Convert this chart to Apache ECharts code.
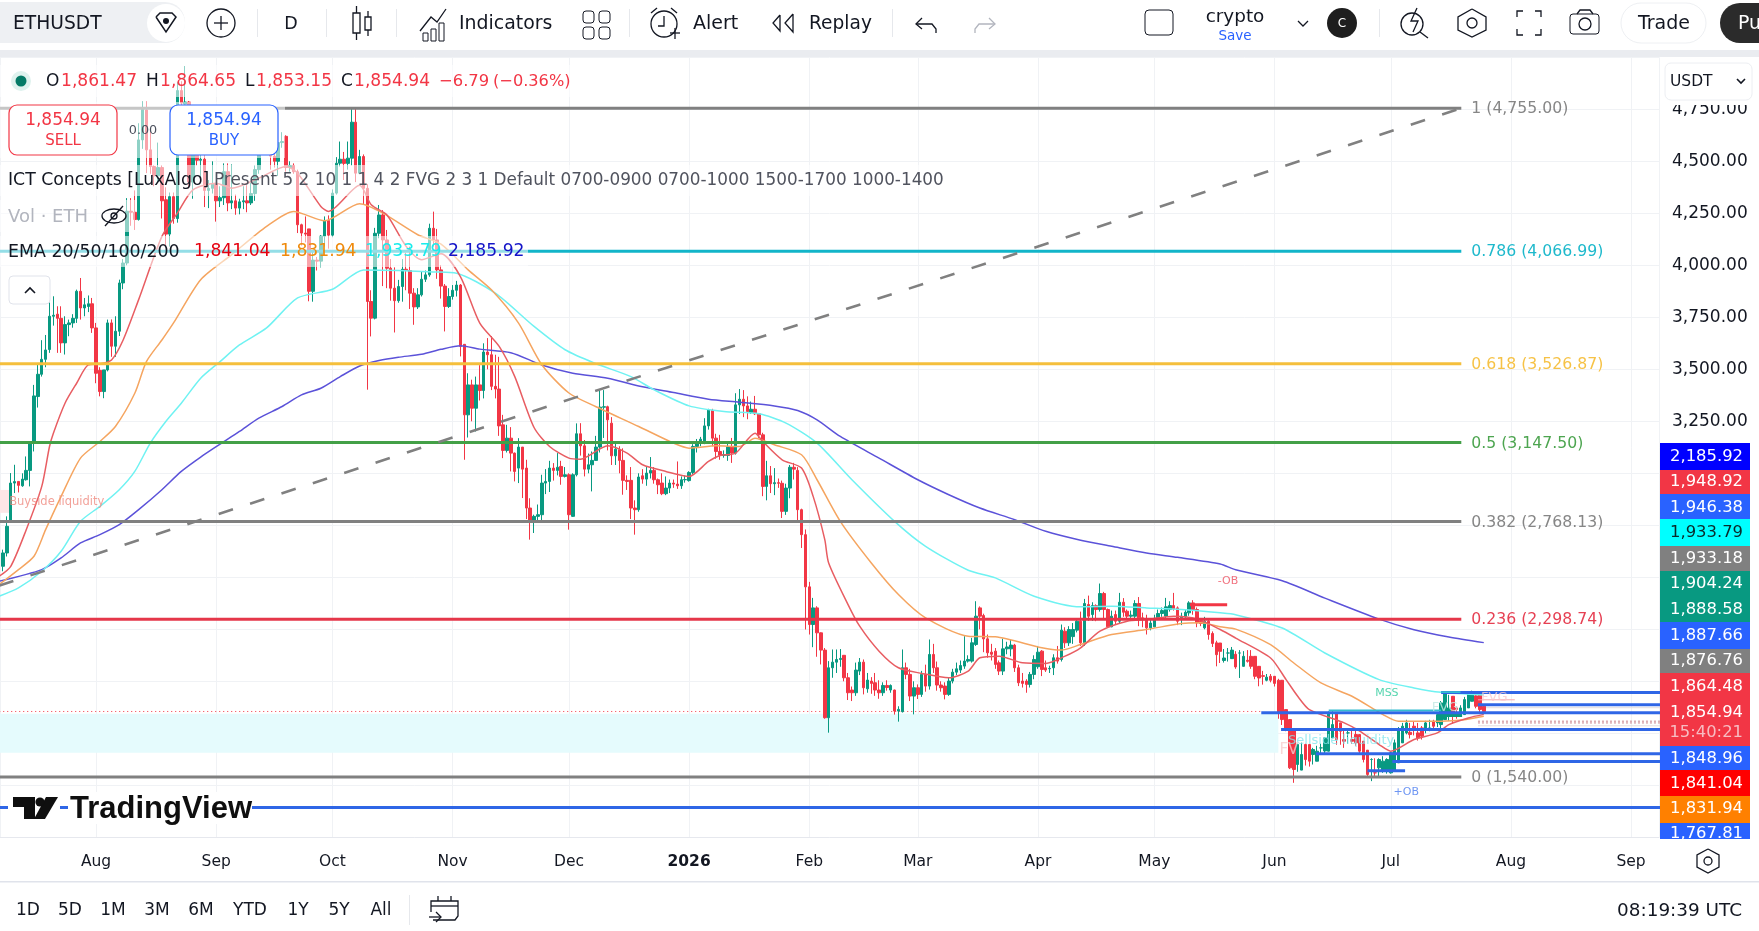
<!DOCTYPE html>
<html>
<head>
<meta charset="utf-8">
<title>ETHUSDT daily</title>
<style>html,body{margin:0;padding:0;background:#fff}#chart{width:1759px;height:931px}</style>
<script src="https://cdn.jsdelivr.net/npm/echarts@6/dist/echarts.min.js"></script>
</head>
<body>
<div id="chart"></div>
<script>
// Daily ETHUSDT candles, first bar 2025-07-08
const firstBar = Date.UTC(2025, 6, 8);
const opens = [2553,2617,2769,2953,2961,2940,2969,3014,3145,3369,3476,3548,3595,3755,3765,3745,3627,3715,3723,3745,3875,3795,3802,3815,3699,3495,3393,3497,3723,3611,3683,3915,4011,4260,4255,4220,4603,4747,4555,4475,4430,4470,4315,4150,4330,4225,4840,4775,4785,4400,4600,4505,4510,4360,4370,4390,4310,4325,4450,4300,4310,4275,4305,4310,4300,4345,4460,4715,4670,4605,4525,4500,4590,4620,4470,4480,4450,4195,4155,4175,3875,4025,4020,4140,4215,4145,4347,4491,4510,4490,4515,4688,4443,4523,4370,3826,3746,4154,4242,4122,3986,3890,3830,3898,3981,3975,3866,3800,3858,3933,3954,4178,4122,3978,3900,3802,3850,3880,3905,3620,3281,3425,3313,3425,3398,3583,3570,3418,3405,3233,3110,3169,3097,3025,3126,3025,2833,2769,2793,2801,2953,2961,3025,3014,3033,2985,2993,2793,2993,3190,3132,3020,3041,3062,3126,3318,3320,3241,3084,3113,3062,2966,2966,2833,2825,2988,2972,3001,3014,2969,2953,2902,2929,2953,2948,2940,2969,2965,3004,3129,3145,3145,3228,3302,3169,3105,3086,3086,3126,3097,3329,3356,3324,3292,3308,3286,3185,2937,2988,2950,2955,2952,2817,2929,3029,3014,2825,2705,2454,2273,2353,2233,2150,1825,2065,2092,2105,2125,2017,1958,1945,2049,2092,1964,2001,1993,1958,1945,1980,1958,1958,1857,1854,2065,2033,1929,1969,1937,2033,1977,2129,2065,1982,1977,1937,2001,2044,2054,2073,2097,2097,2177,2353,2316,2204,2140,2145,2089,2049,2156,2156,2174,2065,2001,2001,1985,2033,2070,2145,2065,2060,2065,2113,2105,2241,2185,2215,2246,2289,2185,2369,2321,2364,2345,2422,2345,2262,2321,2289,2380,2337,2313,2313,2374,2305,2297,2257,2262,2305,2326,2313,2345,2364,2353,2305,2310,2329,2377,2345,2289,2257,2289,2230,2185,2184,2100,2136,2109,2130,2136,2072,2101,2120,2120,2072,2027,2005,2024,2024,2005,2005,1864,1816,1768,1600,1573,1696,1696,1648,1616,1680,1665,1664,1728,1848,1800,1720,1752,1720,1744,1744,1712,1669,1624,1560,1584,1568,1568,1560,1568,1608,1704,1752,1755,1784,1752,1776,1776,1768,1808,1800,1792,1816,1832,1928,1872,1832,1840,1872,1904,1930,1936,1880,1861.47];
const closes = [2617,2745,2953,2960,2942,2972,3014,3145,3372,3476,3548,3593,3755,3760,3745,3627,3715,3723,3745,3875,3795,3810,3815,3699,3481,3393,3497,3723,3611,3683,3915,4011,4260,4255,4220,4603,4750,4555,4475,4430,4470,4310,4150,4330,4225,4840,4780,4785,4400,4600,4505,4510,4360,4370,4390,4310,4325,4450,4300,4310,4275,4305,4310,4300,4345,4460,4715,4670,4605,4525,4500,4590,4595,4470,4480,4450,4195,4155,4150,3875,4025,4020,4140,4215,4145,4347,4491,4510,4490,4515,4688,4443,4523,4370,3826,3746,4154,4242,4122,3986,3890,3830,3898,3981,3975,3866,3800,3858,3933,3954,4178,4122,3978,3900,3802,3850,3880,3905,3610,3281,3425,3313,3425,3398,3583,3570,3418,3405,3228,3110,3169,3097,3009,3126,3020,2833,2769,2793,2801,2953,2961,3025,3014,3029,2985,2993,2801,2993,3190,3132,3020,3041,3062,3126,3318,3320,3257,3084,3116,3062,2966,2961,2833,2825,2982,2972,3001,3014,2969,2945,2902,2929,2953,2948,2940,2969,2970,3004,3129,3145,3164,3228,3305,3169,3105,3086,3090,3126,3097,3329,3356,3324,3297,3308,3286,3185,2937,2988,2950,2955,2952,2817,2929,3029,3020,2825,2705,2454,2273,2353,2233,2150,1825,2065,2092,2105,2110,2017,1945,1945,2054,2092,1969,2006,1990,1958,1945,1980,1970,1980,1857,1865,2065,2033,1929,1969,1937,2033,1977,2129,2065,1982,1969,1937,2001,2044,2060,2076,2097,2105,2185,2313,2313,2204,2137,2130,2081,2049,2156,2165,2174,2065,1993,1990,1985,2033,2105,2140,2057,2054,2062,2113,2097,2246,2185,2249,2249,2289,2185,2374,2313,2364,2345,2422,2345,2262,2313,2289,2380,2332,2313,2318,2374,2305,2297,2257,2280,2297,2326,2340,2358,2364,2348,2289,2313,2332,2377,2345,2281,2278,2289,2225,2182,2128,2144,2112,2136,2150,2069,2136,2120,2096,2072,2024,2016,2024,2020,2005,1990,1852,1816,1768,1584,1576,1696,1648,1624,1616,1672,1664,1680,1728,1848,1792,1720,1760,1712,1752,1712,1704,1664,1624,1552,1624,1560,1624,1616,1624,1656,1704,1768,1784,1800,1744,1776,1728,1736,1800,1776,1784,1840,1896,1944,1872,1832,1864,1872,1912,1944,1945,1880,1864,1854.94];
const lows = [2529,2600,2761,2905,2908,2935,2965,2937,3105,3316,3465,3510,3579,3710,3579,3579,3571,3659,3700,3723,3739,3755,3775,3675,3433,3370,3361,3490,3560,3560,3660,3885,4000,4190,4170,4215,4560,4443,4440,4380,4400,4225,4090,4090,4200,4205,4725,4690,4370,4320,4480,4420,4280,4275,4345,4210,4280,4290,4260,4270,4243,4245,4270,4255,4290,4310,4440,4640,4570,4460,4470,4430,4565,4450,4450,4440,4155,4095,4110,3827,3825,3975,3990,4090,4080,4135,4340,4475,4410,4460,4480,4400,4440,4290,3402,3658,3740,4130,3900,3890,3830,3677,3820,3825,3880,3790,3714,3790,3850,3920,3945,4090,3935,3840,3682,3795,3835,3850,3562,3065,3172,3250,3201,3350,3360,3500,3400,3360,3180,3073,3100,3009,2961,2953,2881,2780,2681,2713,2770,2770,2900,2910,2965,2990,2945,2980,2729,2790,2985,3085,2985,3000,2913,3060,3100,3170,3110,3040,3040,3000,2897,2920,2780,2705,2815,2950,2940,2975,2950,2900,2895,2895,2905,2930,2925,2925,2955,2960,2995,3100,3130,3140,3210,3130,3070,3065,3075,3060,3050,3090,3285,3270,3260,3285,3280,3170,2890,2870,2905,2895,2930,2785,2800,2880,2970,2765,2641,2249,2225,2164,2118,2081,1820,1753,2017,2040,2070,2000,1910,1905,1930,2030,1937,1945,1940,1930,1916,1930,1955,1945,1840,1806,1850,2010,1905,1841,1915,1925,1950,1960,2040,1955,1950,1913,1930,1990,2030,2040,2060,2090,2090,2170,2250,2140,2113,2100,2060,2030,2030,2130,2120,2045,1977,1970,1945,1970,2010,2060,2025,2045,2040,2030,2085,2095,2160,2170,2180,2235,2170,2170,2290,2290,2289,2335,2300,2260,2260,2275,2280,2310,2300,2305,2300,2265,2260,2225,2245,2260,2295,2310,2300,2335,2340,2270,2270,2295,2315,2320,2260,2265,2250,2200,2165,2072,2088,2090,2095,2115,2060,2016,2085,2090,2060,2010,1976,1984,2000,1995,1975,1820,1790,1760,1578,1512,1565,1620,1595,1590,1600,1650,1655,1650,1720,1780,1695,1695,1680,1700,1700,1690,1650,1610,1540,1520,1540,1540,1560,1556,1556,1600,1700,1745,1745,1725,1740,1715,1720,1750,1760,1770,1780,1765,1825,1810,1795,1820,1830,1860,1895,1905,1870,1845,1853.15];
const highs = [2633,2793,3001,3041,2961,3000,3081,3145,3425,3529,3640,3665,3835,3851,3803,3803,3755,3739,3765,3883,3939,3843,3855,3843,3723,3510,3497,3739,3740,3755,3931,4030,4323,4323,4360,4683,4787,4787,4640,4480,4590,4480,4375,4350,4350,4880,4885,4958,4790,4640,4665,4610,4560,4410,4500,4390,4380,4490,4490,4485,4340,4320,4380,4385,4400,4480,4765,4770,4700,4655,4545,4610,4640,4625,4500,4490,4460,4200,4235,4175,4065,4040,4145,4235,4240,4365,4520,4595,4545,4595,4755,4755,4555,4533,4390,3880,4180,4290,4265,4170,4030,3990,3930,4030,4060,4090,3890,3890,3970,3975,4200,4258,4175,4000,3910,3890,3905,3925,3910,3620,3481,3450,3465,3520,3625,3650,3660,3570,3560,3281,3233,3222,3100,3169,3126,3065,2880,2801,2850,2993,3020,3060,3049,3097,3060,3030,3000,3000,3240,3241,3160,3095,3105,3180,3405,3400,3325,3270,3150,3130,3120,2990,3030,2870,3000,3020,3030,3078,3030,2975,3000,2985,2970,2970,3057,2985,2990,3010,3140,3165,3175,3265,3310,3310,3190,3185,3110,3150,3170,3385,3405,3400,3370,3345,3372,3290,3195,3060,3035,3025,2975,2965,2950,3040,3050,3030,2830,2730,2478,2401,2361,2235,2160,2097,2153,2153,2155,2125,2040,1975,2090,2112,2105,2040,2020,2040,2005,1995,2005,1985,1960,1880,2153,2090,2060,2000,1985,2050,2080,2201,2180,2095,2000,1995,2020,2060,2090,2100,2217,2125,2209,2385,2360,2325,2225,2180,2160,2100,2205,2190,2200,2180,2080,2040,2010,2045,2125,2170,2150,2100,2075,2130,2170,2273,2260,2265,2280,2300,2335,2396,2412,2380,2370,2470,2430,2350,2340,2340,2425,2400,2345,2340,2390,2405,2330,2320,2300,2320,2345,2355,2401,2385,2425,2360,2330,2345,2385,2390,2355,2300,2310,2300,2240,2195,2160,2155,2160,2165,2145,2150,2145,2150,2150,2085,2040,2050,2035,2035,2020,2012,1870,1830,1780,1620,1700,1705,1700,1660,1680,1690,1700,1730,1855,1856,1825,1775,1765,1770,1768,1776,1720,1680,1635,1630,1630,1630,1640,1630,1660,1720,1780,1800,1815,1800,1805,1800,1785,1810,1815,1815,1850,1905,1950,1935,1880,1880,1885,1925,1948,1955,1945,1885,1864.65];

// Moving averages, one [bar number, price] reading per marked point of the curve
const ema20 = [[-1,2505],[2,2553],[6,2729],[10,2937],[12,3129],[13,3193],[16,3337],[19,3433],[22,3521],[25,3526],[28,3545],[31,3641],[35,3835],[41,4139],[45,4251],[49,4363],[55,4395],[59,4371],[66,4419],[73,4475],[76,4443],[82,4283],[84,4259],[92,4385],[95,4291],[99,4243],[104,4091],[108,4027],[113,4055],[118,3946],[123,3722],[128,3610],[132,3466],[137,3220],[141,3129],[146,3073],[149,3068],[156,3132],[161,3097],[165,3041],[171,3009],[177,2985],[182,3057],[185,3086],[189,3097],[194,3193],[196,3153],[201,3065],[206,3025],[209,2889],[212,2681],[213,2569],[218,2369],[221,2265],[226,2145],[231,2065],[237,2038],[244,2017],[249,2049],[252,2113],[257,2121],[263,2089],[269,2086],[274,2121],[278,2161],[283,2241],[290,2289],[295,2297],[302,2313],[308,2300],[314,2249],[318,2208],[327,2112],[331,2008],[334,1928],[337,1864],[346,1800],[350,1760],[355,1696],[358,1664],[364,1720],[370,1752],[373,1792],[378,1824],[382,1841.04]];
const ema50 = [[-1,2465],[4,2537],[8,2601],[11,2729],[15,2889],[20,3073],[25,3153],[29,3225],[34,3385],[37,3537],[41,3641],[44,3723],[51,3931],[59,4051],[68,4187],[75,4259],[83,4214],[92,4296],[98,4251],[107,4147],[113,4102],[120,3978],[126,3882],[133,3722],[139,3522],[146,3386],[153,3320],[164,3225],[173,3145],[177,3121],[184,3132],[190,3129],[194,3169],[199,3137],[206,3089],[210,2969],[216,2769],[224,2569],[231,2417],[238,2305],[249,2217],[256,2214],[268,2161],[273,2150],[278,2177],[286,2225],[295,2249],[304,2278],[309,2281],[314,2262],[318,2251],[327,2176],[333,2088],[340,1992],[348,1928],[356,1840],[360,1808],[371,1808],[377,1815],[382,1831.94]];
const ema100 = [[-1,2409],[4,2449],[10,2529],[15,2625],[20,2769],[25,2841],[30,2921],[34,3009],[38,3145],[42,3249],[46,3337],[51,3457],[56,3537],[61,3617],[68,3699],[76,3843],[85,3885],[93,3978],[102,3975],[111,3968],[117,3962],[127,3866],[137,3706],[145,3594],[153,3527],[162,3465],[168,3401],[177,3324],[186,3297],[195,3286],[202,3241],[210,3145],[219,2969],[230,2769],[238,2649],[249,2534],[256,2497],[266,2409],[278,2358],[286,2361],[295,2353],[304,2345],[314,2329],[318,2320],[330,2256],[341,2136],[355,2008],[364,1968],[371,1947],[382,1933.79]];
const ema200 = [[-1,2481],[10,2537],[15,2593],[20,2665],[25,2705],[30,2753],[35,2825],[41,2921],[46,3009],[51,3078],[56,3140],[61,3201],[66,3265],[72,3321],[77,3377],[82,3409],[87,3465],[92,3516],[97,3542],[102,3558],[108,3572],[113,3596],[118,3613],[123,3597],[131,3580],[139,3521],[147,3481],[156,3457],[164,3420],[173,3388],[182,3356],[190,3342],[199,3324],[205,3302],[210,3257],[216,3177],[226,3073],[236,2969],[244,2897],[252,2833],[261,2777],[269,2721],[278,2678],[286,2649],[295,2617],[303,2596],[314,2564],[318,2536],[330,2483],[341,2400],[355,2299],[364,2248],[373,2213],[382,2185.92]];

// Fibonacci retracement levels and the swing line they hang from
const fibRatios = ['1','0.786','0.618','0.5','0.382','0.236','0'];
const fibPrices = [4755,4066.99,3526.87,3147.5,2768.13,2298.74,1540];
const fibColors = ['#808080','#12b5c9','#f5bf3c','#43a047','#808080','#e5364a','#808080'];
const fibEndBar = 376.2;
const swingBars = [-1,376.2];
const swingPrices = [2460,4755];

// ICT structure levels: [first bar, last bar, price]
const blueLevels = [[371,428,1946.38],[380.5,428,1887.66],[324.6,428,1848.96],[329.7,428,1767.81],[338.7,428,1652],[358.4,428,1614],[352,361.7,1570],[-2,428,1393]];
const redBlock = [306.2,315.8,2368];
const cyanLevels = [[342,371,1860],[371,376,1948]];
const greenBlock = [370,376.4,1838];
const fvgEdge = [380.5,390,1911];
const pinkDotted = [[380.5,428,1808],[380.5,428,1800]];
const paleLevels = [[380.5,428,1873],[380.5,428,1786]];
const demandZone = [-2,329,1657,1844];
const buysideBox = [-2,2,2810,2920];
const annotations = [
  ['Buyside liquidity',1.6,2862,'#ef8a80',11.5,'right'],
  ['Sellside liquidity',331.5,1715,'#86e6ee',13,'right'],
  ['FV',329.3,1671,'#f6cdcd',15,'right'],
  ['MSS',357,1945,'#2ccb9b',11,'inside'],
  ['-OB',316,2483,'#ee5060',11,'inside'],
  ['+OB',362,1465,'#4a7cf0',11,'inside'],
  ['FVG',384.7,1921,'#f9c9ce',13,'inside'],
  ['FVG',372,1873,'#c2e8e4',13,'inside']
];

// Price scale tags down the right edge
const tagLabels = ['2,185.92','1,948.92','1,946.38','1,933.79','1,933.18','1,904.24','1,888.58','1,887.66','1,876.76','1,864.48','1,854.94','15:40:21','1,848.96','1,841.04','1,831.94','1,767.81'];
const tagTextColors = ['#fff','#fff','#fff','#0a2a2a','#fff','#fff','#fff','#fff','#fff','#fff','#fff','#f7bcc2','#fff','#fff','#fff','#fff'];
const tagCenters = [456,481,507,532,558,583,609,635,660,686,712,732,758,783,808,833];
const tagBlocks = [[443,470,'#0000ff'],[470,494,'#f23645'],[494,519,'#2962ff'],[519,546,'#00ffff'],[546,571,'#808080'],[571,622,'#089981'],[622,649,'#2962ff'],[649,673,'#808080'],[673,746,'#f23645'],[746,770,'#2962ff'],[770,796,'#ff0000'],[796,823,'#ff8000'],[823,839,'#2962ff']];

const FONT = '"DejaVu Sans"';
const barTime = i => firstBar + i * 86400000;
const candles = opens.map((o, i) => [barTime(i), o, closes[i], lows[i], highs[i]]);
const curve = pts => pts.map(p => [barTime(p[0]), p[1]]);

function flat(name, from, to, price, color, width, extra) {
  return Object.assign({
    name, type: 'line', symbol: 'none', silent: true, animation: false,
    z: 6, lineStyle: { color, width, cap: 'butt' },
    data: [[barTime(from), price], [barTime(to), price]]
  }, extra || {});
}
const emaLine = (name, pts, color) => ({
  name, type: 'line', symbol: 'none', silent: true, animation: false, smooth: 0.25, z: 5,
  lineStyle: { color, width: 1.5 }, data: curve(pts)
});

const series = [];
series.push({
  name: 'zones', type: 'line', symbol: 'none', silent: true, animation: false, z: 1, data: [],
  markArea: { silent: true, animation: false, data: [
    [{ xAxis: barTime(demandZone[0]), yAxis: demandZone[2], itemStyle: { color: '#e5fbfd' } }, { xAxis: barTime(demandZone[1]), yAxis: demandZone[3] }],
    [{ xAxis: barTime(buysideBox[0]), yAxis: buysideBox[2], itemStyle: { color: '#fde6e7' } }, { xAxis: barTime(buysideBox[1]), yAxis: buysideBox[3] }]
  ] }
});
series.push({
  name: 'ETHUSDT', type: 'candlestick', data: candles, barWidth: 3, z: 3, silent: true, animation: false,
  itemStyle: { color: '#089981', color0: '#f23645', borderColor: '#089981', borderColor0: '#f23645', borderWidth: 1 }
});
series.push(flat('last', -2, 324.6, 1854.94, '#f23645', 1, { z: 2, lineStyle: { color: '#f23645', width: 1, type: [1, 3] } }));
series.push(emaLine('EMA 200', ema200, '#5b52d9'));
series.push(emaLine('EMA 100', ema100, '#6ff2f2'));
series.push(emaLine('EMA 50', ema50, '#f5a560'));
series.push(emaLine('EMA 20', ema20, '#e85d62'));
fibPrices.forEach((p, i) => {
  const s = flat('fib ' + fibRatios[i], -2, fibEndBar, p, fibColors[i], 3);
  const txt = fibRatios[i] + ' (' + p.toLocaleString('en-US', { minimumFractionDigits: 2, maximumFractionDigits: 2 }) + ')';
  s.data[1] = { value: s.data[1], label: { show: true, position: 'right', distance: 10, offset: [0, 1], formatter: txt,
    color: fibColors[i], fontFamily: FONT, fontSize: 15.7, opacity: 0.95 } };
  s.showSymbol = true;
  s.symbolSize = 0;
  s.symbol = 'circle';
  series.push(s);
});
series.push({
  name: 'swing', type: 'line', symbol: 'none', silent: true, animation: false, z: 6,
  lineStyle: { color: '#808080', width: 2.6, type: [15, 18] },
  data: swingBars.map((b, i) => [barTime(b), swingPrices[i]])
});
blueLevels.forEach((l, i) => series.push(flat('level ' + i, l[0], l[1], l[2], '#2f66e6', 3, { z: 7 })));
series.push(flat('-OB', redBlock[0], redBlock[1], redBlock[2], '#f23645', 3));
cyanLevels.forEach((l, i) => series.push(flat('mss ' + i, l[0], l[1], l[2], '#33bcd0', 1.6, { z: 8 })));
series.push(flat('+OB block', greenBlock[0], greenBlock[1], greenBlock[2], '#089981', 4, { z: 4 }));
series.push(flat('FVG edge', fvgEdge[0], fvgEdge[1], fvgEdge[2], '#f6a8af', 1));
pinkDotted.forEach((l, i) => series.push(flat('fvg ' + i, l[0], l[1], l[2], '#d9a7ad', 1.4, { z: 2, lineStyle: { color: '#d9a7ad', width: 1.4, type: [2, 2] } })));
paleLevels.forEach((l, i) => series.push(flat('pale ' + i, l[0], l[1], l[2], '#e3dcde', 1, { z: 2 })));
series.push({
  name: 'notes', type: 'scatter', symbolSize: 0, silent: true, animation: false, z: 9,
  data: annotations.map(a => ({
    value: [barTime(a[1]), a[2]],
    label: { show: true, formatter: a[0], position: a[5], distance: 0, color: a[3], fontFamily: FONT, fontSize: a[4] }
  }))
});

// Toolbar, legend and tag drawing helpers
const el = [];
const T = (text, x, y, o = {}) => el.push({ type: 'text', z: o.z || 130, silent: true, style: {
  text, x, y: y + 1, fill: o.color || '#131722', align: o.align || 'left', verticalAlign: 'middle',
  font: (o.weight || 'normal') + ' ' + (o.size || 16) + 'px ' + (o.font || FONT)
} });
const R = (x, y, w, h, o = {}) => el.push({ type: 'rect', z: o.z || 120, silent: true,
  shape: { x, y, width: w, height: h, r: o.r || 0 },
  style: { fill: o.fill || 'none', stroke: o.stroke || null, lineWidth: o.lw || 1 } });
const C = (cx, cy, r, o = {}) => el.push({ type: 'circle', z: o.z || 120, silent: true,
  shape: { cx, cy, r }, style: { fill: o.fill || 'none', stroke: o.stroke || null, lineWidth: o.lw || 1.3 } });
const P = (points, o = {}) => el.push({ type: o.close ? 'polygon' : 'polyline', z: o.z || 125, silent: true,
  shape: { points }, style: { fill: o.fill || 'none', stroke: o.stroke === undefined ? '#131722' : o.stroke, lineWidth: o.lw || 1.3 } });

// toolbar strip
R(0, 0, 1759, 50, { fill: '#fff', z: 110 });
R(0, 50, 1759, 7, { fill: '#eaecf0', z: 110 });
R(-20, 2, 205, 41, { fill: '#eef0f3', r: 20 });
T('ETHUSDT', 13, 23, { size: 18.7 });
C(166, 23, 19, { fill: '#fff' });
P([[156, 17], [160, 13], [172, 13], [176, 17], [166, 32], [156, 17]], { lw: 1.5 });
C(166, 21, 3, { fill: '#131722' });
C(221, 23, 14, { stroke: '#131722' });
P([[214, 23], [228, 23]]); P([[221, 16], [221, 30]]);
[257, 326, 396, 629, 892, 1379].forEach(x => R(x, 9, 1, 28, { fill: '#e6e8ec' }));
T('D', 291, 23, { size: 17.5, align: 'center' });
R(353, 13, 7, 20, { stroke: '#131722', lw: 1.3 }); P([[356.5, 6], [356.5, 13]]); P([[356.5, 33], [356.5, 40]]);
R(365, 17, 6, 13, { stroke: '#131722', lw: 1.3 }); P([[368, 11], [368, 17]]); P([[368, 30], [368, 36]]);
R(423, 33, 5, 8, { stroke: '#131722' }); R(431, 29, 5, 12, { stroke: '#131722' }); R(439, 23, 5, 18, { stroke: '#131722' });
P([[420, 31], [431, 17], [437, 22], [446, 9]]);
T('Indicators', 459, 23, { size: 18.9 });
[[583, 11], [599, 11], [583, 27], [599, 27]].forEach(a => R(a[0], a[1], 11, 12, { stroke: '#131722', r: 3 }));
C(664, 24, 13, { stroke: '#131722' });
P([[664, 16], [664, 26], [658, 26]]); P([[670, 33], [680, 33]]); P([[675, 28], [675, 39]]);
P([[651, 13], [657, 8]]); P([[671, 8], [677, 13]]);
T('Alert', 693, 23, { size: 19 });
P([[780, 15], [773, 23], [780, 31], [780, 15]]); P([[793, 14], [785, 23], [793, 32], [793, 14]]);
T('Replay', 809, 23, { size: 18.6 });
P([[922, 18], [916, 24], [922, 29]]); P([[916, 24], [932, 24], [936, 29], [936, 33]]);
P([[989, 18], [995, 24], [989, 29]], { stroke: '#b2b5be' }); P([[995, 24], [979, 24], [975, 29], [975, 33]], { stroke: '#b2b5be' });
R(1145, 10, 28, 25, { stroke: '#131722', r: 4 });
T('crypto', 1235, 16, { size: 18.4, align: 'center' });
T('Save', 1235, 35, { size: 13.5, align: 'center', color: '#2962ff' });
P([[1298, 21], [1303, 26], [1308, 21]]);
C(1342, 23, 15, { fill: '#1e1e1e' });
T('C', 1342, 23, { size: 12, color: '#fff', align: 'center' });
C(1412, 24, 11, { stroke: '#131722' }); P([[1420, 32], [1428, 38]]); P([[1417, 8], [1411, 21], [1418, 21], [1413, 32]]);
P([[1472, 9], [1486, 17], [1486, 30], [1472, 37], [1458, 30], [1458, 17], [1472, 9]]); C(1472, 23, 5, { stroke: '#131722' });
[[1517, 17, 1517, 11, 1523, 11], [1535, 11, 1541, 11, 1541, 17], [1541, 29, 1541, 35, 1535, 35], [1523, 35, 1517, 35, 1517, 29]].forEach(a => P([[a[0], a[1]], [a[2], a[3]], [a[4], a[5]]]));
R(1570, 14, 29, 20, { stroke: '#131722', r: 3 }); C(1585, 24, 6, { stroke: '#131722' }); P([[1577, 14], [1580, 10], [1590, 10], [1593, 14]]);
R(1621, 3, 85, 40, { stroke: '#eef0f3', r: 20, fill: '#fff' });
T('Trade', 1664, 23, { size: 19, align: 'center' });
R(1720, 3, 70, 40, { fill: '#2b2b2b', r: 20 });
T('Pu', 1738, 23, { size: 18.9, color: '#fff' });

// translucent plates behind the legend rows
[[0, 65, 572, 32], [0, 102, 285, 56], [0, 165, 945, 31], [0, 200, 135, 32], [0, 236, 528, 31]].forEach(a => R(a[0], a[1], a[2], a[3], { fill: 'rgba(255,255,255,0.55)', z: 100 }));

// symbol row
C(21, 81, 10, { fill: '#dff2ee', z: 121 }); C(21, 81, 5.5, { fill: '#057a66', z: 122 });
const red = '#f23645';
[['O', 46, '#131722', 17], ['1,861.47', 61, red, 17.1], ['H', 146, '#131722', 17], ['1,864.65', 160, red, 17.1], ['L', 245, '#131722', 17], ['1,853.15', 256, red, 17.1], ['C', 341, '#131722', 17], ['1,854.94', 354, red, 17.1], ['\u22126.79', 439, red, 16.4], ['(\u22120.36%)', 493, red, 16.2]]
  .forEach(a => T(a[0], a[1], 81, { color: a[2], size: a[3] }));

// order buttons
R(9, 105, 108, 50, { fill: '#fff', stroke: red, r: 8, lw: 1.2 });
T('1,854.94', 63, 120, { color: red, align: 'center', size: 17 });
T('SELL', 63, 140, { color: red, align: 'center', size: 15 });
R(170, 105, 108, 50, { fill: '#fff', stroke: '#2962ff', r: 8, lw: 1.2 });
T('1,854.94', 224, 120, { color: '#2962ff', align: 'center', size: 17 });
T('BUY', 224, 140, { color: '#2962ff', align: 'center', size: 15 });
T('0.00', 143, 130, { color: '#4a4f5c', align: 'center', size: 12.8 });

// indicator legend rows
T('ICT Concepts [LuxAlgo]', 8, 180, { size: 17.3 });
T('Present 5 2 10 1 1 4 2 FVG 2 3 1 Default 0700-0900 0700-1000 1500-1700 1000-1400', 214, 180, { size: 16.85, color: '#50535e' });
T('Vol \u00b7 ETH', 8, 216, { size: 18, color: '#b2b5be' });
el.push({ type: 'ellipse', z: 125, silent: true, shape: { cx: 114, cy: 216, rx: 12, ry: 7 }, style: { fill: 'none', stroke: '#131722', lineWidth: 1.3 } });
C(114, 216, 3, { stroke: '#131722' }); P([[105, 226], [123, 206]]);
T('EMA 20/50/100/200', 8, 251, { size: 17.4 });
T('1,841.04', 194, 251, { color: '#e5000f', size: 17.2 });
T('1,831.94', 280, 251, { color: '#ef8a0c', size: 17.2 });
T('1,933.79', 365, 251, { color: '#19ecec', size: 17.2 });
T('2,185.92', 448, 251, { color: '#1414c8', size: 17.2 });
R(9, 276, 41, 28, { fill: '#fff', stroke: '#e0e3eb', r: 4 });
P([[25, 293], [30, 288], [35, 293]], { lw: 1.6 });

// price tags and the currency button
tagBlocks.forEach(b => R(1660, b[0], 90, b[1] - b[0], { fill: b[2], z: 115 }));
tagLabels.forEach((t, i) => T(t, 1743, tagCenters[i], { color: tagTextColors[i], align: 'right', size: 16.4, z: 118 }));
R(1750, 823, 9, 20, { fill: '#fff', z: 116 });
R(1660, 839, 99, 6, { fill: '#fff', z: 119 });
R(1660, 58, 99, 47, { fill: '#fff', z: 119 });
R(1665, 63, 87, 37, { fill: '#fff', stroke: '#eceef2', r: 6 });
T('USDT', 1670, 81, { size: 15.5 });
P([[1737, 79], [1741, 83], [1745, 79]], { lw: 1.6 });

// TradingView mark over the chart
R(8, 792, 52, 30, { fill: '#fff', z: 101 });
P([[13, 797], [35, 797], [35, 819], [24, 819], [24, 807], [13, 807]], { close: true, fill: '#0f0f0f', stroke: null, z: 126 });
P([[45, 819], [34, 819], [46, 797], [58, 797]], { close: true, fill: '#0f0f0f', stroke: null, z: 126 });
C(40, 802, 4.6, { fill: '#0f0f0f', z: 126 });
R(68, 792, 184, 32, { fill: '#fff', z: 101 });
T('TradingView', 70, 808, { size: 31, weight: 'bold', font: '"Liberation Sans"', color: '#0f0f0f' });

// bottom strip
R(0, 881, 1759, 1.5, { fill: '#e0e3eb' });
[['1D', 28], ['5D', 70], ['1M', 113], ['3M', 157], ['6M', 201], ['YTD', 250], ['1Y', 298], ['5Y', 339], ['All', 381]].forEach(a => T(a[0], a[1], 910, { align: 'center', size: 17 }));
R(409, 895, 1, 30, { fill: '#e6e8ec' });
P([[433, 920], [455, 920], [458, 916], [458, 901], [431, 901], [431, 912]]); P([[431, 906], [458, 906]]);
P([[438, 896], [438, 901]]); P([[451, 896], [451, 901]]); P([[429, 917], [441, 917]]); P([[436, 912], [441, 917], [436, 922]]);
T('08:19:39 UTC', 1742, 910, { align: 'right', size: 18.4 });
P([[1708, 849], [1719, 855], [1719, 867], [1708, 873], [1697, 867], [1697, 855], [1708, 849]]); C(1708, 861, 4, { stroke: '#131722' });

const chart = echarts.init(document.getElementById('chart'), null, { renderer: 'canvas' });
chart.setOption({
  animation: false,
  useUTC: true,
  backgroundColor: '#fff',
  grid: { left: 0, right: 100, top: 57.3, height: 780, containLabel: false },
  xAxis: {
    type: 'time',
    min: barTime(-0.77), max: barTime(427.2),
    splitNumber: 14,
    axisLine: { show: true, lineStyle: { color: '#e6e8ee' } },
    axisTick: { show: false },
    splitLine: { show: true, lineStyle: { color: '#f0f2f5', width: 1 } },
    minorSplitLine: { show: false },
    axisLabel: {
      margin: 17, color: '#131722', fontFamily: FONT, fontSize: 15.5, showMinLabel: false, showMaxLabel: false, hideOverlap: false,
      formatter: v => {
        const d = new Date(v);
        if (d.getUTCDate() !== 1) return '';
        if (d.getUTCMonth() === 0) return '{y|' + d.getUTCFullYear() + '}';
        return ['', 'Feb', 'Mar', 'Apr', 'May', 'Jun', 'Jul', 'Aug', 'Sep', 'Oct', 'Nov', 'Dec'][d.getUTCMonth()];
      },
      rich: { y: { fontWeight: 'bold', fontFamily: FONT, fontSize: 15.5, color: '#131722' } }
    }
  },
  yAxis: {
    type: 'value', position: 'right', min: 1250, max: 5000, interval: 250, scale: true,
    axisLine: { show: false }, axisTick: { show: false },
    splitLine: { show: true, lineStyle: { color: '#f0f2f5', width: 1 } },
    axisLabel: {
      margin: 13, color: '#131722', fontFamily: FONT, fontSize: 17, padding: [3, 0, 0, 0],
      formatter: v => (v < 3250 || v > 4750) ? '' : v.toLocaleString('en-US', { minimumFractionDigits: 2, maximumFractionDigits: 2 })
    }
  },
  series,
  graphic: { elements: el }
});
</script>
</body>
</html>
